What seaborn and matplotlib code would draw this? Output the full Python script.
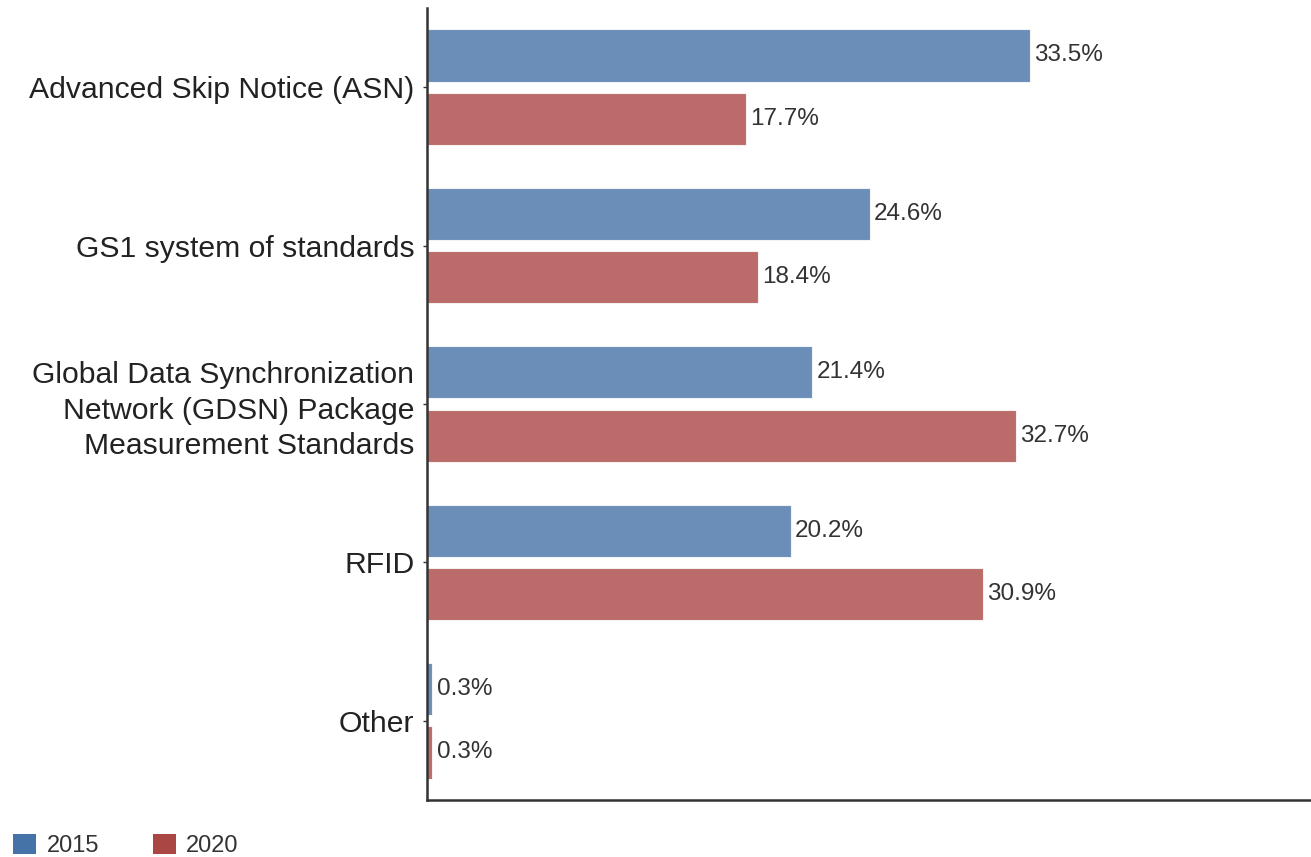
import numpy as np
import pandas as pd
import matplotlib
matplotlib.use('Agg')
import matplotlib.pyplot as plt
from matplotlib.patches import Patch
import seaborn as sns

# dati
categories = [
    'Advanced Skip Notice (ASN)',
    'GS1 system of standards',
    'Global Data Synchronization\nNetwork (GDSN) Package\nMeasurement Standards',
    'RFID',
    'Other',
]
years = ['2015', '2020']
values_2015 = [33.5, 24.6, 21.4, 20.2, 0.3]
values_2020 = [17.7, 18.4, 32.7, 30.9, 0.3]

colors = {'2015': '#4572A7', '2020': '#AA4643'}

df = pd.DataFrame({
    'Category': categories * 2,
    'Year': ['2015'] * len(categories) + ['2020'] * len(categories),
    'Value': values_2015 + values_2020,
})

sns.set_style('white')
plt.rcParams['font.family'] = ['Liberation Sans', 'DejaVu Sans']

fig = plt.figure(figsize=(13.11, 8.57), dpi=100)
ax = fig.add_axes([0.3257, 0.0665, 0.6743, 0.9242])

sns.barplot(data=df, y='Category', x='Value', hue='Year', order=categories,
            hue_order=years, palette=colors, orient='h', width=0.8, gap=0.175,
            saturation=1, alpha=0.8, edgecolor='white', linewidth=0.8,
            legend=False, ax=ax)

for cont in ax.containers:
    ax.bar_label(cont, fmt='{:.1f}%', padding=3, fontsize=17.5, color='#333333')

ax.set_xlim(0, 49.1)
ax.set_ylim(4.5, -0.5)
ax.set_xlabel('')
ax.set_ylabel('')
ax.set_xticks([])
ax.tick_params(axis='y', labelsize=21.7, colors='#333333', length=3, width=1,
               left=True, pad=6)
for lab in ax.get_yticklabels():
    lab.set_color('#222222')
    lab.set_horizontalalignment('right')
    lab.set_multialignment('right')
    lab.set_linespacing(1.32)

for side in ['top', 'right']:
    ax.spines[side].set_visible(False)
for side in ['left', 'bottom']:
    ax.spines[side].set_color('#333333')
    ax.spines[side].set_linewidth(1.8)

handles = [Patch(facecolor=colors[y], edgecolor='none', label=y) for y in years]
fig.legend(handles=handles, loc='lower left', bbox_to_anchor=(-0.006, -0.025),
           ncol=2, frameon=False, fontsize=17, handlelength=0.95,
           handleheight=0.95, handletextpad=0.45, columnspacing=2.3,
           labelcolor='#333333')

fig.savefig('out.png', dpi=100)
